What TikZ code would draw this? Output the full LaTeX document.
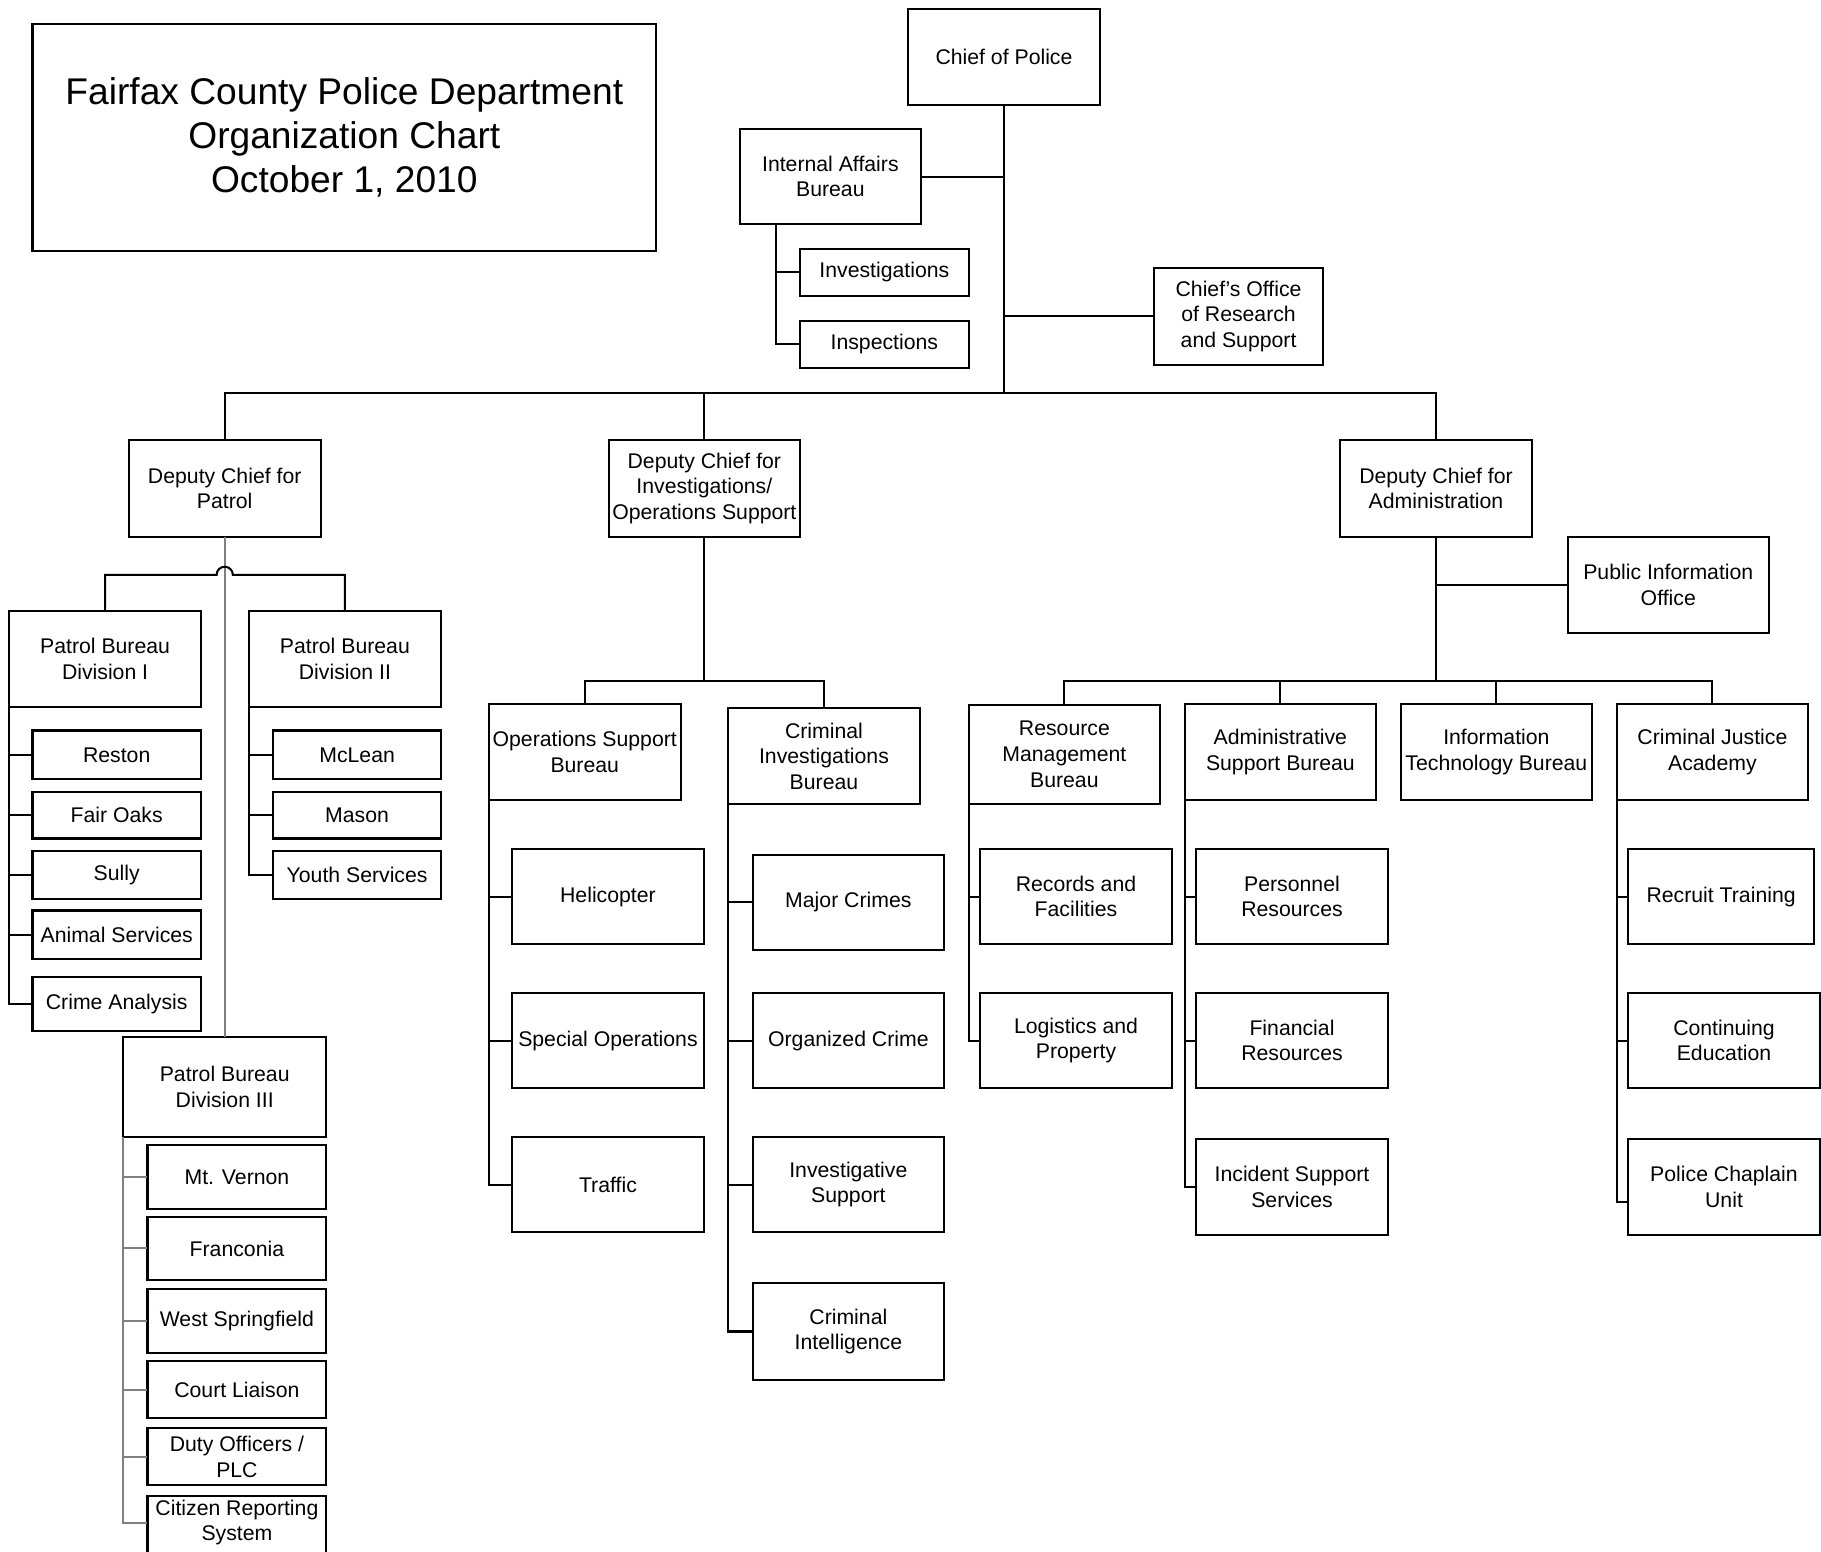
\documentclass[tikz,border=0pt]{standalone}
\usepackage{fontspec}
\setmainfont{Liberation Sans}
\usetikzlibrary{calc}
\definecolor{linegray}{RGB}{128,128,128}
\newcommand\ob[7][]{\node[box,#1,minimum width={(#5-#3)*0.01cm},minimum height={(#6-#4)*0.01cm}] (#2) at ({(#3+#5)/2},{(#4+#6)/2}) {#7};}
\begin{document}
\begin{tikzpicture}[x=0.01cm,y=-0.01cm,
  box/.style={draw, line width=0.5pt, inner sep=0pt, outer sep=0pt, align=center, font=\fontsize{5.2}{6.25}\selectfont},
  titlebox/.style={font=\fontsize{9.1}{10.8}\selectfont},
  ln/.style={line width=0.5pt},
  gln/.style={line width=0.5pt, draw=linegray}]
\useasboundingbox (0,0) rectangle (1568,1336);
\clip (0,0) rectangle (1568,1336);

% title
\ob[titlebox]{title}{28}{21}{565}{216}{Fairfax County Police Department\\Organization Chart\\October 1, 2010}

% top
\ob{chief}{782}{8}{947}{90}{Chief of Police}
\ob{ia}{637}{111}{793}{193}{Internal Affairs\\Bureau}
\ob{invs}{689}{214}{834}{255}{Investigations}
\ob{insp}{689}{276}{834}{317}{Inspections}
\ob{cors}{994}{231}{1139}{314}{Chief’s Office\\of Research\\and Support}
\ob{dpat}{111}{379}{276}{462}{Deputy Chief for\\Patrol}
\ob{dinv}{524}{379}{689}{462}{Deputy Chief for\\Investigations/\\Operations Support}
\ob{dadm}{1154}{379}{1319}{462}{Deputy Chief for\\Administration}

% patrol
\ob{div1}{8}{526}{173}{609}{Patrol Bureau\\Division I}
\ob{div2}{214}{526}{380}{609}{Patrol Bureau\\Division II}
\ob{reston}{28}{629}{173}{671}{Reston}
\ob{fairoaks}{28}{682}{173}{722}{Fair Oaks}
\ob{sully}{28}{733}{173}{774}{Sully}
\ob{animal}{28}{784}{173}{826}{Animal Services}
\ob{crime}{28}{841}{173}{888}{Crime Analysis}
\ob{mclean}{235}{629}{380}{671}{McLean}
\ob{mason}{235}{682}{380}{722}{Mason}
\ob{youth}{235}{733}{380}{774}{Youth Services}
\ob{div3}{106}{893}{281}{979}{Patrol Bureau\\Division III}
\ob{mtv}{127}{986}{281}{1041}{Mt. Vernon}
\ob{fran}{127}{1048}{281}{1102}{Franconia}
\ob{wsp}{127}{1110}{281}{1165}{West Springfield}
\ob{court}{127}{1172}{281}{1221}{Court Liaison}
\ob{duty}{127}{1230}{281}{1279}{Duty Officers /\\PLC}
\ob[draw=none]{citz}{127}{1288}{281}{1334}{Citizen Reporting\\System}
\draw[ln] ($(citz.south west)+(0,8)$) -- (citz.north west) -- (citz.north east) -- ($(citz.south east)+(0,8)$);

% investigations / operations support
\ob{osb}{421}{606}{586}{689}{Operations Support\\Bureau}
\ob{cib}{627}{610}{792}{692}{Criminal\\Investigations\\Bureau}
\ob{heli}{441}{731}{606}{813}{Helicopter}
\ob{specops}{441}{855}{606}{937}{Special Operations}
\ob{traffic}{441}{979}{606}{1061}{Traffic}
\ob{major}{648}{736}{813}{818}{Major Crimes}
\ob{organized}{648}{855}{813}{937}{Organized Crime}
\ob{invsup}{648}{979}{813}{1061}{Investigative\\Support}
\ob{crimint}{648}{1105}{813}{1188}{Criminal\\Intelligence}

% administration
\ob{pio}{1350}{462}{1523}{545}{Public Information\\Office}
\ob{rmb}{834}{607}{999}{692}{Resource\\Management\\Bureau}
\ob{asb}{1020}{606}{1185}{689}{Administrative\\Support Bureau}
\ob{itb}{1206}{606}{1371}{689}{Information\\Technology Bureau}
\ob{cja}{1392}{606}{1557}{689}{Criminal Justice\\Academy}
\ob{recf}{844}{731}{1009}{813}{Records and\\Facilities}
\ob{logp}{844}{855}{1009}{937}{Logistics and\\Property}
\ob{pers}{1030}{731}{1195}{813}{Personnel\\Resources}
\ob{fin}{1030}{855}{1195}{937}{Financial\\Resources}
\ob{inc}{1030}{981}{1195}{1063}{Incident Support\\Services}
\ob{recr}{1402}{731}{1562}{813}{Recruit Training}
\ob{cont}{1402}{855}{1567}{937}{Continuing\\Education}
\ob{chap}{1402}{981}{1567}{1063}{Police Chaplain\\Unit}

% bus coordinates
\coordinate (mainbus) at (0,338);
\coordinate (patbus) at (0,495);
\coordinate (midbus) at (0,586);

% top connectors
\draw[ln] (chief.south) -- (chief.south |- mainbus);
\draw[ln] (ia.east) -- (ia.east -| chief.south);
\draw[ln] (cors.west) -- (cors.west -| chief.south);
\draw[ln] ($(ia.south west)+(31,0)$) |- (invs.west);
\draw[ln] ($(ia.south west)+(31,0)$) |- (insp.west);
\draw[ln] (dpat.north) -- (dpat.north |- mainbus) -- (dadm.north |- mainbus) -- (dadm.north);
\draw[ln] (dinv.north) -- (dinv.north |- mainbus);

% patrol connectors
\draw[gln] (dpat.south) -- (div3.north);
\draw[ln] (div1.north) -- (div1.north |- patbus) -- ($(dpat.south |- patbus)+(-7,0)$)
  arc[start angle=180, end angle=360, radius=7] -- (div2.north |- patbus) -- (div2.north);
\foreach \c in {reston,fairoaks,sully,animal,crime} \draw[ln] (div1.south west) |- (\c.west);
\foreach \c in {mclean,mason,youth} \draw[ln] (div2.south west) |- (\c.west);
\foreach \c in {mtv,fran,wsp,court,duty,citz} \draw[gln] (div3.south west) |- (\c.west);

% investigations connectors
\draw[ln] (dinv.south) -- (dinv.south |- midbus);
\draw[ln] (osb.north) -- (osb.north |- midbus) -- (cib.north |- midbus) -- (cib.north);
\foreach \c in {heli,specops,traffic} \draw[ln] (osb.south west) |- (\c.west);
\foreach \c in {major,organized,invsup,crimint} \draw[ln] (cib.south west) |- (\c.west);

% administration connectors
\draw[ln] (dadm.south) -- (dadm.south |- midbus);
\draw[ln] (pio.west) -- (pio.west -| dadm.south);
\draw[ln] (rmb.north) -- (rmb.north |- midbus) -- (cja.north |- midbus) -- (cja.north);
\draw[ln] (asb.north) -- (asb.north |- midbus);
\draw[ln] (itb.north) -- (itb.north |- midbus);
\foreach \c in {recf,logp} \draw[ln] (rmb.south west) |- (\c.west);
\foreach \c in {pers,fin,inc} \draw[ln] (asb.south west) |- (\c.west);
\draw[ln] (cja.south west) |- (recr.west);
\draw[ln] (cja.south west) |- (cont.west);
\draw[ln] (cja.south west) |- ($(chap.west)+(0,13)$);
\end{tikzpicture}
\end{document}
